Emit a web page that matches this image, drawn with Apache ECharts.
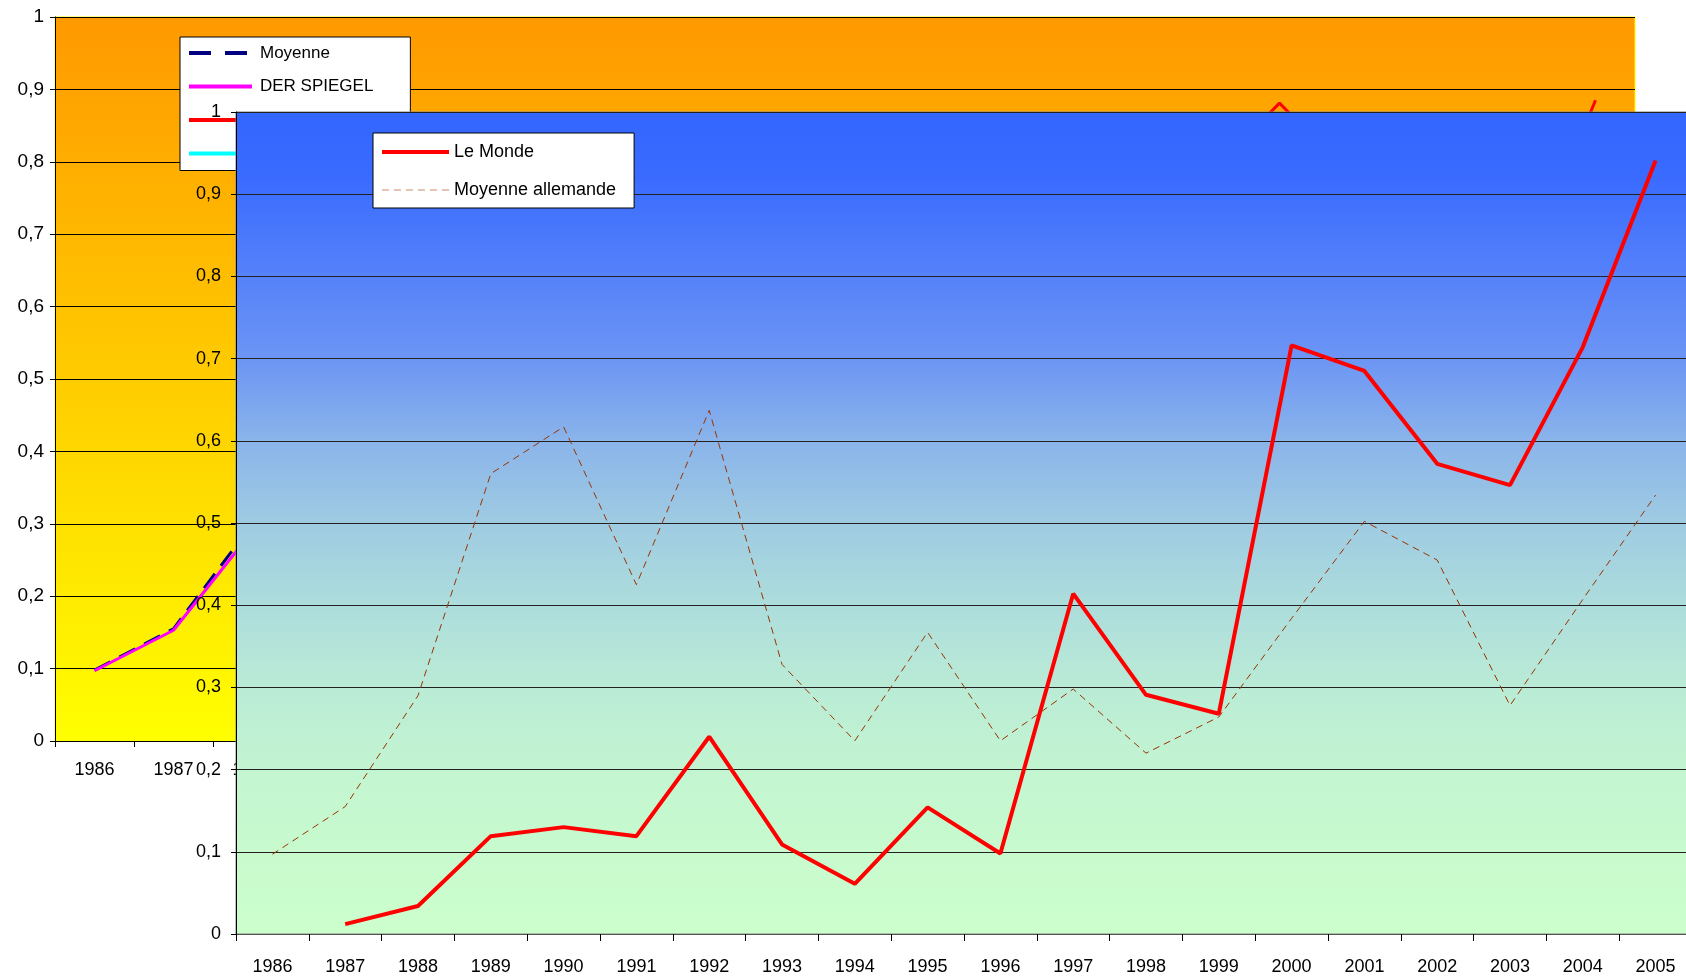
<!DOCTYPE html>
<html>
<head>
<meta charset="utf-8">
<script src="https://cdn.jsdelivr.net/npm/echarts@6/dist/echarts.min.js"></script>
<style>
  html, body { margin: 0; padding: 0; overflow: hidden; background: #fff; }
  #backChart { position: absolute; left: 0; top: 0; width: 1686px; height: 980px; }
  #frontChart { position: absolute; left: 0; top: 0; width: 1700px; height: 980px; }
</style>
</head>
<body>
<div id="backChart"></div>
<div id="frontChart"></div>
<script>
// années (axe des catégories)
const years = ['1986','1987','1988','1989','1990','1991','1992','1993','1994','1995',
               '1996','1997','1998','1999','2000','2001','2002','2003','2004','2005'];

// graphique du fond (en grande partie caché)
const backMoyenne  = [0.098,0.155,0.30,0.56,0.62,0.43,0.64,0.33,0.24,0.37,0.24,0.30,0.22,0.26,0.38,0.50,0.45,0.28,0.41,0.53];
const backSpiegel  = [0.097,0.153,0.29,0.55,0.61,0.42,0.63,0.32,0.23,0.36,0.23,0.29,0.21,0.25,0.37,0.49,0.44,0.27,0.40,0.52];
const backLeMonde  = [null,null,null,0.30,0.34,0.32,0.45,0.30,0.22,0.36,0.28,0.55,0.48,0.45,0.77,0.881,0.77,0.70,0.62,0.885];
const backDieZeit  = [null,null,null,0.40,0.45,0.38,0.50,0.35,0.30,0.40,0.33,0.42,0.36,0.38,0.48,0.58,0.52,0.40,0.50,0.60];

// graphique de devant
const leMonde          = [null,0.012,0.034,0.119,0.130,0.119,0.240,0.109,0.061,0.154,0.098,0.414,0.291,0.268,0.716,0.685,0.572,0.546,0.714,0.941];
const moyenneAllemande = [0.097,0.155,0.290,0.560,0.617,0.425,0.637,0.328,0.235,0.367,0.235,0.298,0.220,0.264,0.384,0.502,0.455,0.278,0.407,0.534];

const FONT = "'Liberation Sans', Arial, sans-serif";

// format français des graduations : 0,1 0,2 ...
const fmt = (v) => (v === 0 || v === 1) ? String(v) : v.toFixed(1).replace('.', ',');

const backChart = echarts.init(document.getElementById('backChart'));
backChart.setOption({
    animation: false,
    backgroundColor: '#ffffff',
    textStyle: { fontFamily: FONT },
    grid: {
        left: 55, top: 17, right: 51, bottom: 239,
        show: true,
        borderColor: '#ffff00',
        borderWidth: 1,
        backgroundColor: new echarts.graphic.LinearGradient(0, 0, 0, 1, [
            { offset: 0, color: '#ff9900' },
            { offset: 1, color: '#ffff00' }
        ])
    },
    legend: {
        orient: 'vertical',
        left: 180, top: 37,
        backgroundColor: '#ffffff',
        borderColor: '#000000',
        borderWidth: 1,
        borderRadius: 0,
        padding: [6, 37, 7, 7],
        itemWidth: 63, itemHeight: 14, itemGap: 13.5,
        itemStyle: { opacity: 0, borderWidth: 0 },
        textStyle: { color: '#000', fontSize: 17, fontFamily: FONT, lineHeight: 20, padding: [0, 0, 0, 3] },
        data: [
            { name: 'Moyenne', lineStyle: { width: 4, type: [22, 14] } },
            { name: 'DER SPIEGEL', lineStyle: { width: 4 } },
            { name: 'Le Monde', lineStyle: { width: 4 } },
            { name: 'Die Zeit', lineStyle: { width: 4 } }
        ]
    },
    xAxis: {
        type: 'category',
        data: years,
        axisLine: { lineStyle: { color: '#000', width: 1 } },
        axisTick: { show: true, length: 6, lineStyle: { color: '#000' } },
        axisLabel: { color: '#000', fontSize: 18, fontFamily: FONT, margin: 20, interval: 0 }
    },
    yAxis: {
        type: 'value',
        min: 0, max: 1, interval: 0.1,
        axisLine: { show: true, lineStyle: { color: '#000', width: 1 } },
        axisTick: { show: true, length: 5, lineStyle: { color: '#000' } },
        axisLabel: { color: '#000', fontSize: 19, fontFamily: FONT, margin: 11, formatter: fmt },
        splitLine: { lineStyle: { color: '#000', width: 1 } }
    },
    series: [
        { name: 'Moyenne', type: 'line', data: backMoyenne, symbol: 'none',
          lineStyle: { color: '#000080', width: 3, type: [18, 10] }, itemStyle: { color: '#000080' } },
        { name: 'DER SPIEGEL', type: 'line', data: backSpiegel, symbol: 'none',
          lineStyle: { color: '#ff00ff', width: 3 }, itemStyle: { color: '#ff00ff' } },
        { name: 'Le Monde', type: 'line', data: backLeMonde, symbol: 'none',
          lineStyle: { color: '#ff0000', width: 3 }, itemStyle: { color: '#ff0000' } },
        { name: 'Die Zeit', type: 'line', data: backDieZeit, symbol: 'none',
          lineStyle: { color: '#00ffff', width: 3 }, itemStyle: { color: '#00ffff' } }
    ]
});

const frontChart = echarts.init(document.getElementById('frontChart'));
frontChart.setOption({
    animation: false,
    backgroundColor: 'transparent',
    textStyle: { fontFamily: FONT },
    grid: {
        left: 236, top: 112, right: 8, bottom: 46,
        show: true,
        borderColor: '#808080',
        borderWidth: 1,
        backgroundColor: new echarts.graphic.LinearGradient(0, 0, 0, 1, [
            { offset: 0,    color: '#3366ff' },
            { offset: 0.08, color: '#3a6bff' },
            { offset: 0.3,  color: '#6c95f5' },
            { offset: 0.4,  color: '#8ab4ea' },
            { offset: 0.5,  color: '#9fcbe2' },
            { offset: 0.6,  color: '#addddc' },
            { offset: 0.7,  color: '#baebd6' },
            { offset: 0.8,  color: '#c3f5d1' },
            { offset: 0.9,  color: '#c8face' },
            { offset: 1,    color: '#ccffcc' }
        ])
    },
    legend: {
        orient: 'vertical',
        left: 373, top: 133,
        backgroundColor: '#ffffff',
        borderColor: '#000000',
        borderWidth: 1,
        borderRadius: 0,
        padding: [9, 18, 8, 7],
        itemWidth: 67, itemHeight: 14, itemGap: 18,
        itemStyle: { opacity: 0, borderWidth: 0 },
        textStyle: { color: '#000', fontSize: 18, fontFamily: FONT, lineHeight: 20 },
        data: [
            { name: 'Le Monde', lineStyle: { width: 4 } },
            { name: 'Moyenne allemande', lineStyle: { width: 1, color: '#c98a6a', type: [7, 5] } }
        ]
    },
    xAxis: {
        type: 'category',
        data: years,
        axisLine: { lineStyle: { color: '#555', width: 1 } },
        axisTick: { show: true, length: 7, lineStyle: { color: '#000' } },
        axisLabel: { color: '#000', fontSize: 18, fontFamily: FONT, margin: 24, interval: 0 }
    },
    yAxis: {
        type: 'value',
        min: 0, max: 1, interval: 0.1,
        axisLine: { show: true, lineStyle: { color: '#000', width: 1 } },
        axisTick: { show: true, length: 5, lineStyle: { color: '#000' } },
        axisLabel: { color: '#000', fontSize: 18, fontFamily: FONT, margin: 15, formatter: fmt },
        splitLine: { lineStyle: { color: '#222', width: 1 } }
    },
    series: [
        { name: 'Le Monde', type: 'line', data: leMonde, symbol: 'none',
          lineStyle: { color: '#ff0000', width: 4 }, itemStyle: { color: '#ff0000' } },
        { name: 'Moyenne allemande', type: 'line', data: moyenneAllemande, symbol: 'none',
          lineStyle: { color: '#993300', width: 1, type: [7, 5] }, itemStyle: { color: '#c98a6a' } }
    ]
});

window.addEventListener('resize', () => {
    backChart.resize();
    frontChart.resize();
});
</script>
</body>
</html>
